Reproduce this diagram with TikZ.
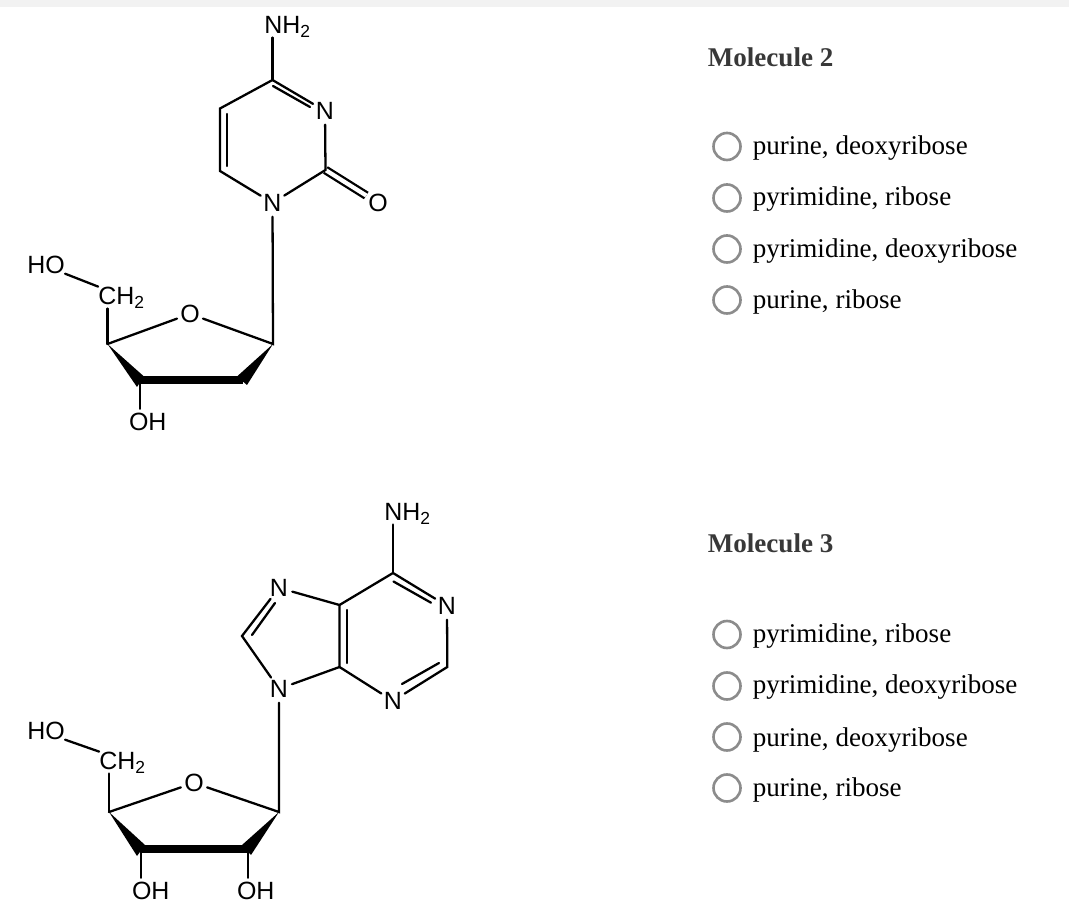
\documentclass[tikz,border=0pt]{standalone}
\usepackage{fontspec}
\setmainfont{Liberation Serif}
\newfontfamily\atomfont{Liberation Sans}
\usetikzlibrary{calc}
\tikzset{
	bond/.style={line width=1.3pt, line cap=round},
	boldbond/.style={line width=4.4pt},
	dblbond/.style={line width=1.3pt, double, double distance=2.4pt},
	wedge/.style={fill=black},
	atom/.style={circle, inner sep=0pt, minimum size=0.54cm, yshift=-0.5pt, font=\atomfont\fontsize{14.2}{16}\selectfont},
	group/.style={anchor=base west, inner sep=0pt, yshift=-0.8pt, font=\atomfont\fontsize{14.2}{16}\selectfont},
	hydroxyl/.style={group, outer ysep=2.4pt, outer xsep=0pt},
	title/.style={anchor=base west, inner sep=0pt, text=black!78, font=\fontsize{15.4}{18}\selectfont\bfseries},
	answer/.style={anchor=base west, inner sep=0pt, font=\fontsize{15.4}{18}\selectfont},
	radio/.style={circle, draw=black!45, line width=1.5pt, inner sep=0pt, minimum size=0.54cm}
}

\begin{document}
\begin{tikzpicture}[x=0.02cm, y=-0.02cm]
	\useasboundingbox (0, 0) rectangle (1069, 918);
	\fill[black!5] (0, 0) rectangle (1069, 7);

	%%%%% MOLECULE 2: BASE %%%%%
	\node[group] (tnh) at (264, 32) {NH\textsubscript{2}};
	\node[atom] (tn3) at (325, 110) {N};
	\node[atom] (tn1) at (272.5, 202) {N};
	\node[atom] (to2) at (378, 202) {O};
	\coordinate (tc4) at (272.5, 80);
	\coordinate (tc5) at (220, 108.5);
	\coordinate (tc6) at (220, 171);
	\coordinate (tc2) at (325.5, 170);
	\coordinate (tc4i) at (273, 86);
	\coordinate (tn3i) at (310, 107);
	\coordinate (tc5i) at (226.7, 114);
	\coordinate (tc6i) at (226.7, 166);

	\draw[dblbond] (tc2) -- (to2);
	\draw[bond] (tc4) -- (tc4 |- tnh.south);
	\draw[bond] (tc4) -- (tn3);
	\draw[bond] (tc4i) -- (tn3i);
	\draw[bond] (tc4) -- (tc5) -- (tc6) -- (tn1);
	\draw[bond] (tc5i) -- (tc6i);
	\draw[bond] (tn3) -- (tc2) -- (tn1);

	%%%%% MOLECULE 2: SUGAR %%%%%
	\node[group] (tho) at (27, 272) {HO};
	\node[group] (tch) at (98, 303) {CH\textsubscript{2}};
	\node[atom] (tor) at (190, 313) {O};
	\node[hydroxyl] (toh) at (129, 429) {OH};
	\coordinate (ts1) at (273, 344);
	\coordinate (ts2) at (243, 380);
	\coordinate (ts3) at (140, 380);
	\coordinate (ts4) at (107.5, 344);
	\coordinate (ts2a) at (237, 376.5);
	\coordinate (ts2b) at (247, 385);
	\coordinate (ts3a) at (144, 376.5);
	\coordinate (ts3b) at (137, 387);

	\draw[bond] (tn1) -- (ts1) -- (tor) -- (ts4);
	\draw[bond] (tho.-25) -- (tch.155);
	\draw[bond] (ts4) -- (ts4 |- tch.south);
	\draw[bond] (ts3) -- (ts3 |- toh.north);
	\draw[boldbond] (ts3) -- (ts2);
	\fill[wedge] (ts4) -- (ts3a) -- (ts3b) -- cycle;
	\fill[wedge] (ts1) -- (ts2a) -- (ts2b) -- cycle;

	%%%%% MOLECULE 3: BASE %%%%%
	\node[group] (bnh) at (384, 519) {NH\textsubscript{2}};
	\node[atom] (bn1) at (447, 605) {N};
	\node[atom] (bn3) at (393, 700) {N};
	\node[atom] (bn7) at (279, 587) {N};
	\node[atom] (bn9) at (279, 688) {N};
	\coordinate (bc6) at (393, 573);
	\coordinate (bc5) at (339.5, 605);
	\coordinate (bc4) at (339.5, 667);
	\coordinate (bc2) at (447.3, 667);
	\coordinate (bc8) at (242, 636);
	\coordinate (bc6i) at (393.5, 581.5);
	\coordinate (bn1i) at (431, 602.7);
	\coordinate (bc2i) at (439, 663);
	\coordinate (bn3i) at (402, 684);
	\coordinate (bc8i) at (252, 635);
	\coordinate (bn7i) at (275, 603);
	\coordinate (bc5i) at (346.7, 610);
	\coordinate (bc4i) at (346.7, 663);

	\draw[bond] (bc6) -- (bc6 |- bnh.south);
	\draw[bond] (bc6) -- (bn1) -- (bc2) -- (bn3) -- (bc4) -- (bc5) -- (bc6);
	\draw[bond] (bc6i) -- (bn1i);
	\draw[bond] (bc2i) -- (bn3i);
	\draw[bond] (bc5i) -- (bc4i);
	\draw[bond] (bc5) -- (bn7) -- (bc8) -- (bn9) -- (bc4);
	\draw[bond] (bc8i) -- (bn7i);

	%%%%% MOLECULE 3: SUGAR %%%%%
	\node[group] (bho) at (27, 738) {HO};
	\node[group] (bch) at (99, 768) {CH\textsubscript{2}};
	\node[atom] (bor) at (194, 782) {O};
	\node[hydroxyl] (boh) at (132, 898) {OH};
	\node[hydroxyl] (bohb) at (237, 898) {OH};
	\coordinate (bs1) at (279, 812);
	\coordinate (bs2) at (248, 849);
	\coordinate (bs3) at (141, 849);
	\coordinate (bs4) at (109, 812);
	\coordinate (bs2a) at (242, 845);
	\coordinate (bs2b) at (251, 855);
	\coordinate (bs3a) at (145, 845);
	\coordinate (bs3b) at (137, 856);

	\draw[bond] (bn9) -- (bs1) -- (bor) -- (bs4);
	\draw[bond] (bho.-25) -- (bch.155);
	\draw[bond] (bs4) -- (bs4 |- bch.south);
	\draw[bond] (bs3) -- (bs3 |- boh.north);
	\draw[bond] (bs2) -- (bs2 |- bohb.north);
	\draw[boldbond] (bs3) -- (bs2);
	\fill[wedge] (bs4) -- (bs3a) -- (bs3b) -- cycle;
	\fill[wedge] (bs1) -- (bs2a) -- (bs2b) -- cycle;

	%%%%% QUESTIONS %%%%%
	\node[title] (qtop) at (707.5, 67) {Molecule 2};
	\node[radio] (ra) at (727, 146.5) {};
	\node[answer] (aa) at (752.5, 155) {purine, deoxyribose};
	\node[radio] (rb) at (727, 198) {};
	\node[answer] (ab) at (752.5, 206) {pyrimidine, ribose};
	\node[radio] (rc) at (727, 249) {};
	\node[answer] (ac) at (752.5, 257.5) {pyrimidine, deoxyribose};
	\node[radio] (rd) at (727, 300) {};
	\node[answer] (ad) at (752.5, 309) {purine, ribose};

	\node[title] (qbot) at (707.5, 553) {Molecule 3};
	\node[radio] (re) at (727, 634.5) {};
	\node[answer] (ae) at (752.5, 643) {pyrimidine, ribose};
	\node[radio] (rf) at (727, 686) {};
	\node[answer] (af) at (752.5, 694) {pyrimidine, deoxyribose};
	\node[radio] (rg) at (727, 737) {};
	\node[answer] (ag) at (752.5, 746) {purine, deoxyribose};
	\node[radio] (rh) at (727, 788) {};
	\node[answer] (ah) at (752.5, 797) {purine, ribose};
\end{tikzpicture}
\end{document}
